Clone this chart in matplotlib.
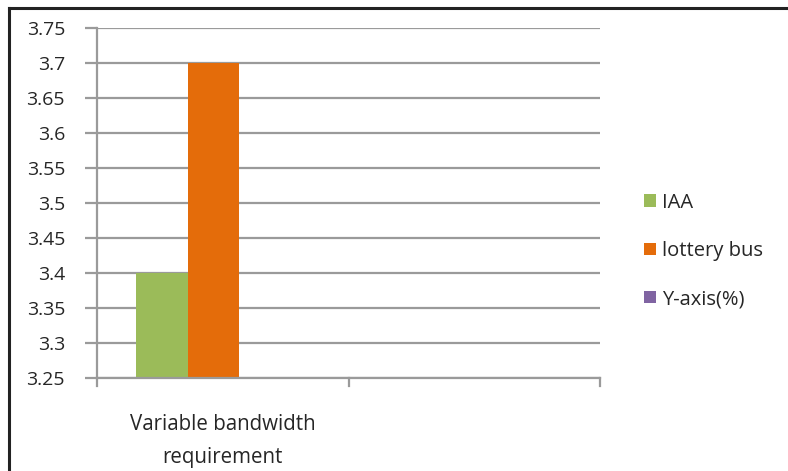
import matplotlib
matplotlib.use("Agg")
import matplotlib.pyplot as plt
from matplotlib.lines import Line2D
from matplotlib.patches import Patch
import numpy as np

categories = ["Variable bandwidth\nrequirement", ""]
series_names = ["IAA", "lottery bus", "Y-axis(%)"]
iaa = [3.4, np.nan]
lottery = [3.7, np.nan]
yaxis_pct = [np.nan, np.nan]
colors = ["#9BBB59", "#E46C0A", "#8064A2"]
yticks = [3.25, 3.3, 3.35, 3.4, 3.45, 3.5, 3.55, 3.6, 3.65, 3.7, 3.75]

W, H = 788, 471
fig = plt.figure(figsize=(W / 100, H / 100), dpi=100)
plt.rcParams['font.family'] = ['Open Sans', 'DejaVu Sans']
FS = 14
tc = "#262626"

left, right, top, bottom = 97, 600, 28, 378
ax = fig.add_axes([left / W, 1 - bottom / H, (right - left) / W, (bottom - top) / H])

gridc = "#9A9A9A"
ymin, ymax = 3.25, 3.75
ax.set_ylim(ymin, ymax)
ax.set_xlim(0, 2)
for y in yticks:
    ax.axhline(y, color=gridc, lw=1.6, zorder=0)

bw = 0.204
offsets = [0.258, 0.462, 0.666]
for vals, off, c in zip([iaa, lottery, yaxis_pct], offsets, colors):
    x = np.arange(len(categories)) + off
    v = np.array(vals, dtype=float)
    ax.bar(x, v - ymin, bottom=ymin, width=bw, color=c, zorder=2, linewidth=0)

ax.set_yticks(yticks)
ax.set_yticklabels([f"{t:g}" for t in yticks], fontsize=FS, color=tc)
ax.set_xticks([0.5, 1.5])
ax.set_xticklabels(categories, fontsize=14.8, color=tc, linespacing=1.75)
ax.tick_params(axis='x', length=0, pad=26)
ax.tick_params(axis='y', length=9, width=1.6, color=gridc, pad=14)
for s in ["top", "right"]:
    ax.spines[s].set_visible(False)
ax.spines["left"].set_color(gridc)
ax.spines["left"].set_linewidth(1.6)
ax.spines["bottom"].set_color(gridc)
ax.spines["bottom"].set_linewidth(1.6)
for xb in [0, 1, 2]:
    ax.plot([xb, xb], [0, -8 / (bottom - top)], transform=ax.get_xaxis_transform(),
            color=gridc, lw=1.6, clip_on=False)

handles = [Patch(facecolor=c, edgecolor='none') for c in colors]
fig.legend(handles, series_names, loc="center left",
           bbox_to_anchor=(626 / W, 1 - 251 / H), frameon=False, fontsize=14.5,
           handlelength=0.6, handleheight=0.6, handletextpad=0.3, labelspacing=1.4,
           labelcolor=tc)

fig.add_artist(Line2D([9 / W, 1], [1 - 8 / H, 1 - 8 / H], transform=fig.transFigure,
                      color="#222222", lw=2.2))
fig.add_artist(Line2D([9 / W, 9 / W], [0, 1 - 8 / H], transform=fig.transFigure,
                      color="#222222", lw=2.2))

fig.savefig("out.png", dpi=100)
